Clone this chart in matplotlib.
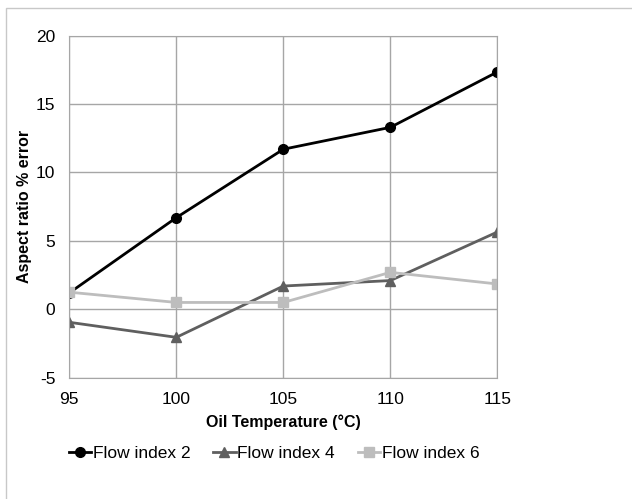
import matplotlib.pyplot as plt
from matplotlib.patches import Rectangle

plt.rcParams['font.family'] = ['Liberation Sans', 'DejaVu Sans']
plt.rcParams['axes.unicode_minus'] = False

temps = [95, 100, 105, 110, 115]
flow2 = [1.2, 6.7, 11.7, 13.3, 17.35]
flow4 = [-0.95, -2.05, 1.7, 2.1, 5.65]
flow6 = [1.25, 0.5, 0.5, 2.7, 1.85]

fig = plt.figure(figsize=(6.32, 4.99), dpi=100)
ax = fig.add_axes([0.1097, 0.2431, 0.6773, 0.6854])

# outer chart frame
fig.patches.append(Rectangle((6/632, -0.1), 1.2, 1 - 8/499 + 0.1,
                             transform=fig.transFigure, fill=False,
                             edgecolor='#c8c8c8', linewidth=1))

ax.plot(temps, flow2, color='black', marker='o', markersize=7, linewidth=2, label='Flow index 2')
ax.plot(temps, flow4, color='#5f5f5f', marker='^', markersize=7, linewidth=2, label='Flow index 4')
ax.plot(temps, flow6, color='#bdbdbd', marker='s', markersize=7, linewidth=2, label='Flow index 6')

ax.set_xlim(95, 115)
ax.set_ylim(-5, 20)
ax.set_xticks(temps)
ax.set_yticks([-5, 0, 5, 10, 15, 20])
ax.grid(True, color='#a6a6a6', linewidth=1)
ax.set_axisbelow(True)
for s in ax.spines.values():
    s.set_color('#a6a6a6')
ax.tick_params(length=0, labelsize=12.5, pad=10)
ax.tick_params(axis='x', pad=10)

ax.set_xlabel('Oil Temperature (°C)', fontsize=11.5, fontweight='bold', labelpad=6)
ax.set_ylabel('Aspect ratio % error', fontsize=11.5, fontweight='bold', labelpad=3)

fig.legend(loc='center', bbox_to_anchor=(274/632, 1 - 453/499), ncol=3, frameon=False,
           fontsize=12.5, handlelength=1.3, handletextpad=0.1, columnspacing=1.3)

fig.savefig('out.png', dpi=100)
